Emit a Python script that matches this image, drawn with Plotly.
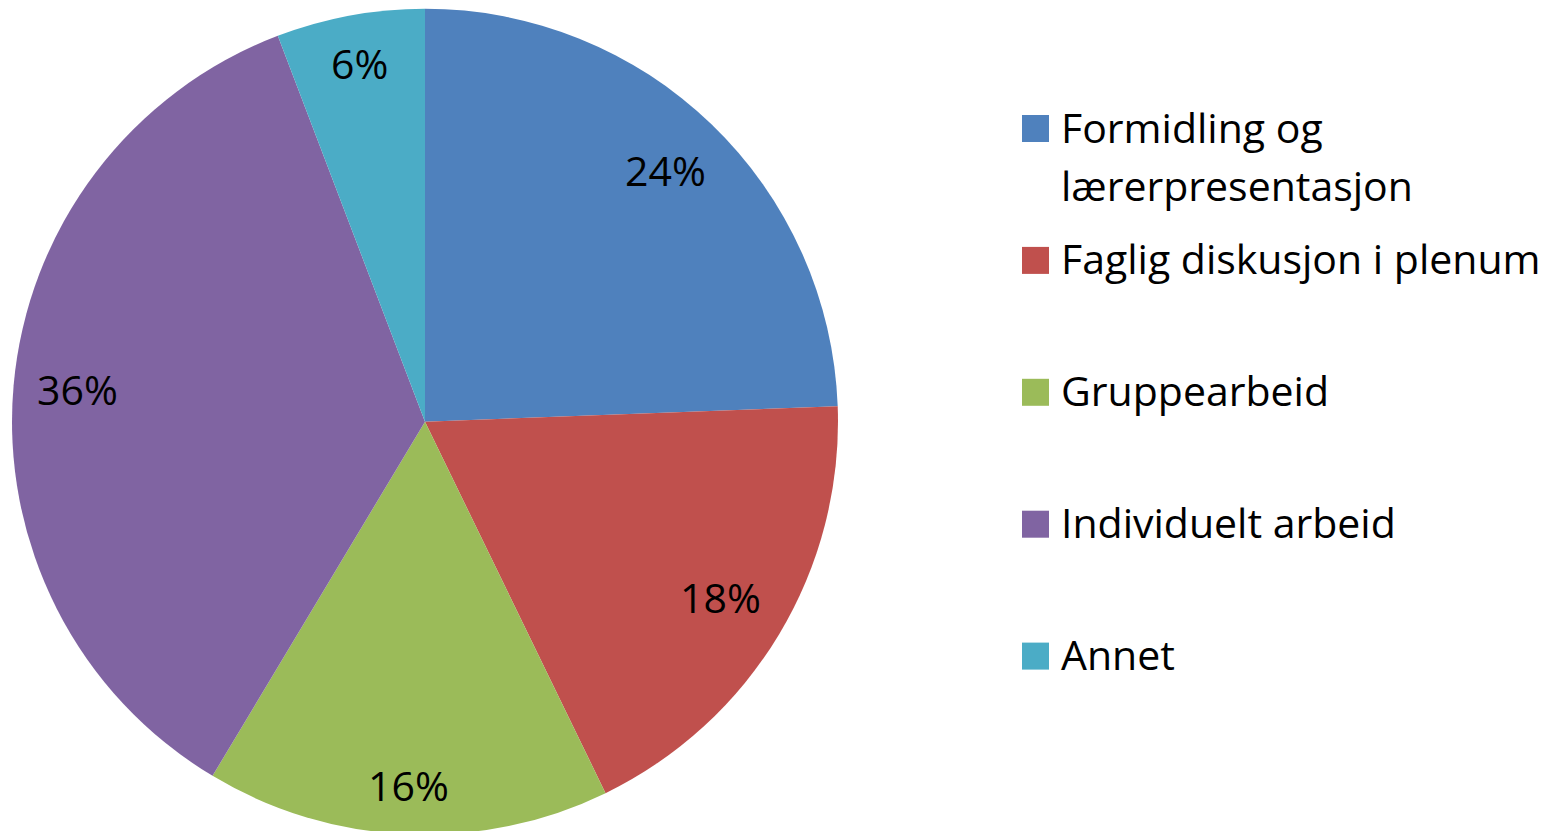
import math
import plotly.graph_objects as go

categories = ["Formidling og lærerpresentasjon", "Faglig diskusjon i plenum",
              "Gruppearbeid", "Individuelt arbeid", "Annet"]
legend_lines = [["Formidling og", "lærerpresentasjon"], ["Faglig diskusjon i plenum"],
                ["Gruppearbeid"], ["Individuelt arbeid"], ["Annet"]]
values = [24.4, 18.4, 15.8, 35.6, 5.8]
colors = ["#4F81BD", "#C0504D", "#9BBB59", "#8064A2", "#4BACC6"]

W, H = 1563, 831
FONT = "Open Sans"
OFF = 8  # page body margin

# pie geometry (figure pixel coords)
cx, cy, R = 425 - OFF, 421.7 - OFF, 413
fig = go.Figure(go.Pie(
    labels=categories, values=values, sort=False, direction="clockwise", rotation=0,
    marker=dict(colors=colors, line=dict(width=0)),
    textinfo="none", showlegend=False, hoverinfo="label+percent",
    domain=dict(x=[(cx - R) / W, (cx + R) / W], y=[(H - (cy + R)) / H, (H - (cy - R)) / H]),
))

annots, shapes = [], []
# data labels, placed inside near the outer edge (like Excel "inside end")
total = sum(values)
cum = 0.0
lab_size = 41
for v in values:
    mid = (cum + v / 2) / total * 2 * math.pi
    cum += v
    txt = f"{round(v / total * 100)}%"
    w = 24 * (len(txt) - 1) + 31
    h = 46
    ext = abs(math.sin(mid)) * w / 2 + abs(math.cos(mid)) * h / 2
    r = (R - 23) - ext
    px = cx + r * math.sin(mid)
    py = cy - r * math.cos(mid)
    annots.append(dict(text=txt, xref="paper", yref="paper", x=px / W, y=1 - (py - 2) / H,
                       xanchor="center", yanchor="middle", showarrow=False,
                       font=dict(family=FONT, size=lab_size, color="black")))

# legend
y_first, step, sq = 128.5 - OFF, 131.9, 27
x_sq, x_txt = 1022 - OFF, 1062 - OFF - 3
for i, (lines, col) in enumerate(zip(legend_lines, colors)):
    yc = y_first + i * step
    shapes.append(dict(type="rect", xref="paper", yref="paper",
                       x0=x_sq / W, x1=(x_sq + sq) / W,
                       y0=1 - (yc - sq / 2) / H, y1=1 - (yc + sq / 2) / H,
                       fillcolor=col, line=dict(width=0)))
    for j, ln in enumerate(lines):
        annots.append(dict(text=ln, xref="paper", yref="paper", x=x_txt / W,
                           y=1 - (yc - 2 + j * 58) / H, xanchor="left", yanchor="middle",
                           showarrow=False, font=dict(family=FONT, size=41, color="black")))

fig.update_layout(width=W, height=H, margin=dict(l=0, r=0, t=0, b=0),
                  paper_bgcolor="white", plot_bgcolor="white",
                  shapes=shapes, annotations=annots)
fig.write_html("out.html")
